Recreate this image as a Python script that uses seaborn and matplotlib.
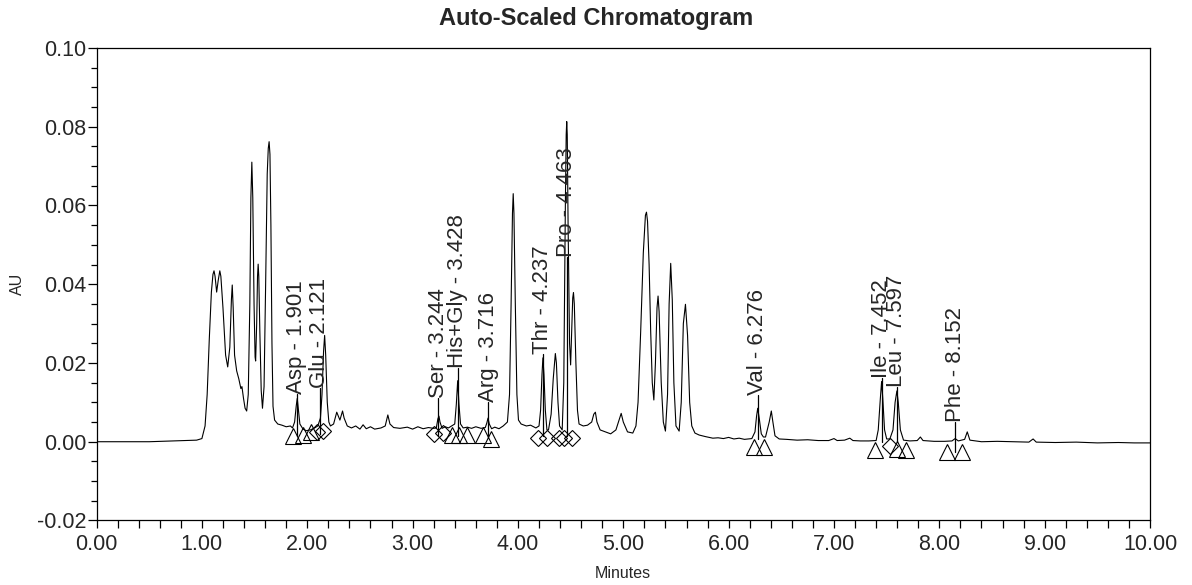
import numpy as np
import seaborn as sns
import matplotlib.pyplot as plt
from matplotlib.ticker import MultipleLocator, FormatStrFormatter

# chromatogram trace (minutes, AU)
time_min = [0.00, 0.50, 0.95, 1.00, 1.03, 1.05, 1.07, 1.09, 1.105, 1.115, 1.125, 1.14, 1.155, 1.17, 1.18,
            1.20, 1.225, 1.245, 1.265, 1.28, 1.288, 1.297, 1.31, 1.33, 1.35, 1.37, 1.38, 1.395, 1.41, 1.425,
            1.44, 1.455, 1.465, 1.474, 1.483, 1.495, 1.505, 1.51, 1.52, 1.528, 1.534, 1.54, 1.55, 1.563, 1.575,
            1.59, 1.605, 1.62, 1.63, 1.638, 1.646, 1.655, 1.665, 1.675, 1.69, 1.72, 1.76, 1.80, 1.84,
            1.86, 1.88, 1.895, 1.905, 1.915, 1.93, 1.96, 1.99, 2.03, 2.07,
            2.10, 2.125, 2.14, 2.155, 2.165, 2.175, 2.19, 2.205, 2.22,
            2.25, 2.28, 2.295, 2.31, 2.335, 2.35, 2.38, 2.42, 2.46, 2.50, 2.53, 2.56, 2.60, 2.64, 2.70, 2.74,
            2.765, 2.785, 2.82, 2.88, 2.95, 3.00, 3.05, 3.10, 3.15, 3.20,
            3.225, 3.24, 3.25, 3.26, 3.28, 3.31, 3.34, 3.37,
            3.40, 3.415, 3.428, 3.44, 3.455, 3.48, 3.52, 3.56, 3.60, 3.65, 3.69,
            3.705, 3.716, 3.728, 3.75, 3.78, 3.82, 3.86, 3.90,
            3.92, 3.935, 3.948, 3.955, 3.962, 3.975, 3.99, 4.005, 4.03, 4.08, 4.12, 4.17, 4.20,
            4.215, 4.228, 4.237, 4.247, 4.26, 4.275, 4.29,
            4.315, 4.335, 4.355, 4.365, 4.38, 4.395, 4.42,
            4.435, 4.45, 4.458, 4.463, 4.468, 4.476, 4.49, 4.50,
            4.51, 4.52, 4.527, 4.535, 4.55, 4.565, 4.58, 4.62, 4.66, 4.70, 4.72, 4.735, 4.75, 4.78, 4.83,
            4.88, 4.93, 4.96, 4.98, 5.00, 5.04, 5.09, 5.12,
            5.14, 5.165, 5.19, 5.21, 5.22, 5.23, 5.245, 5.26, 5.275, 5.29,
            5.305, 5.32, 5.33, 5.34, 5.36, 5.38, 5.40,
            5.42, 5.435, 5.45, 5.465, 5.48, 5.50, 5.53,
            5.55, 5.57, 5.59, 5.61, 5.63, 5.65, 5.68, 5.72, 5.78, 5.85, 5.90, 5.95, 6.00, 6.05, 6.10, 6.15, 6.22,
            6.25, 6.265, 6.276, 6.29, 6.31, 6.33, 6.35, 6.385, 6.405, 6.42, 6.44, 6.48, 6.55, 6.65, 6.75,
            6.85, 6.95, 7.00, 7.03, 7.10, 7.15, 7.18, 7.25, 7.33, 7.40,
            7.42, 7.44, 7.452, 7.463, 7.48, 7.50, 7.53,
            7.56, 7.58, 7.597, 7.61, 7.63, 7.66, 7.72, 7.79, 7.82, 7.845, 7.95, 8.05, 8.12, 8.15, 8.18,
            8.24, 8.265, 8.29, 8.40, 8.55, 8.70, 8.85, 8.89, 8.92, 9.10, 9.30, 9.50, 9.70, 9.85, 10.00]
au = [0.0, 0.0, 0.0004, 0.0008, 0.004, 0.012, 0.026, 0.038, 0.0425, 0.0434, 0.042, 0.038, 0.041, 0.0434, 0.042,
      0.034, 0.022, 0.019, 0.024, 0.036, 0.0398, 0.034, 0.022, 0.018, 0.016, 0.0135, 0.014, 0.011, 0.0085, 0.0078,
      0.012, 0.035, 0.062, 0.0710, 0.062, 0.035, 0.0215, 0.0205, 0.030, 0.042, 0.0451, 0.042, 0.028, 0.013, 0.0085,
      0.014, 0.040, 0.068, 0.0745, 0.0762, 0.073, 0.055, 0.025, 0.009, 0.0055, 0.0045, 0.0042, 0.0038, 0.0040,
      0.0035, 0.005, 0.009, 0.011, 0.0085, 0.0045, 0.0032, 0.0028, 0.0030, 0.0035,
      0.004, 0.006, 0.012, 0.023, 0.027, 0.022, 0.010, 0.005, 0.004,
      0.0045, 0.0075, 0.0065, 0.0055, 0.0078, 0.006, 0.004, 0.0035, 0.004, 0.0032, 0.0043, 0.0033, 0.0038, 0.0032, 0.0035, 0.004,
      0.0068, 0.0045, 0.0036, 0.0034, 0.0037, 0.0032, 0.0038, 0.0033, 0.0036, 0.0034,
      0.0035, 0.0058, 0.0065, 0.005, 0.0034, 0.0038, 0.0035, 0.004,
      0.0045, 0.0095, 0.0155, 0.0095, 0.0045, 0.0035, 0.0037, 0.0034, 0.0038, 0.0034, 0.0036,
      0.0048, 0.006, 0.0045, 0.0033, 0.0037, 0.0033, 0.004, 0.005,
      0.012, 0.035, 0.058, 0.063, 0.058, 0.035, 0.012, 0.0055, 0.0045, 0.004, 0.0042, 0.0035, 0.004,
      0.008, 0.017, 0.0213, 0.017, 0.008, 0.003, 0.003,
      0.007, 0.016, 0.0224, 0.020, 0.010, 0.004, 0.003,
      0.015, 0.060, 0.078, 0.0813, 0.078, 0.055, 0.025, 0.0195,
      0.028, 0.0365, 0.0379, 0.035, 0.020, 0.008, 0.0045, 0.004, 0.0042, 0.005, 0.007, 0.0075, 0.005, 0.003, 0.0025,
      0.002, 0.003, 0.0055, 0.0072, 0.005, 0.0025, 0.0022, 0.004,
      0.010, 0.028, 0.048, 0.0575, 0.0583, 0.056, 0.045, 0.028, 0.015, 0.0106,
      0.020, 0.034, 0.037, 0.033, 0.015, 0.005, 0.0027,
      0.012, 0.035, 0.0453, 0.036, 0.015, 0.004, 0.0027,
      0.010, 0.030, 0.0349, 0.027, 0.010, 0.004, 0.0022, 0.0017, 0.0013, 0.0009, 0.001, 0.0008, 0.0011, 0.0007, 0.0009, 0.0006, 0.0008,
      0.0025, 0.0065, 0.0085, 0.006, 0.002, 0.0012, 0.0012, 0.005, 0.0078, 0.005, 0.0015, 0.0007, 0.0006, 0.0004, 0.0005,
      0.0003, 0.0003, 0.0008, 0.0003, 0.0004, 0.0009, 0.0003, 0.0002, 0.0002, 0.0003,
      0.003, 0.011, 0.0153, 0.011, 0.003, 0.0007, 0.0007,
      0.003, 0.010, 0.0129, 0.010, 0.003, 0.0004, 0.0002, 0.0003, 0.0012, 0.0003, 0.0001, 0.0001, 0.0002, 0.0008, 0.0002,
      0.0006, 0.0025, 0.0004, 0.0, 0.0001, 0.0, -0.0001, 0.0007, -0.0001, -0.0002, -0.0001, -0.0003, -0.0002, -0.0003, -0.0003]

# integrated peaks
peak_names = ["Asp", "Glu", "Ser", "His+Gly", "Arg", "Thr", "Pro", "Val", "Ile", "Leu", "Phe"]
peak_rt = [1.901, 2.121, 3.244, 3.428, 3.716, 4.237, 4.463, 6.276, 7.452, 7.597, 8.152]
label_au = [0.0120, 0.0136, 0.0110, 0.0187, 0.0102, 0.0222, 0.0468, 0.0119, 0.0162, 0.0140, 0.0051]
base_au = [0.0015, 0.0020, 0.0015, 0.0015, 0.0010, 0.0015, 0.0015, 0.0008, 0.0, 0.0, -0.0025]

# peak start/stop marks
tri_t = [1.862, 1.960, 2.035, 3.370, 3.445, 3.520, 3.665, 3.744, 6.240, 6.335, 7.385, 7.595, 7.685, 8.070, 8.215]
tri_au = [0.0015, 0.0018, 0.0025, 0.0018, 0.0018, 0.0018, 0.0018, 0.0008, -0.0013, -0.0013, -0.0020, -0.0018, -0.0020, -0.0025, -0.0025]
dia_t = [2.090, 2.145, 3.200, 3.290, 4.190, 4.280, 4.390, 4.440, 4.510, 7.535]
dia_au = [0.0025, 0.0028, 0.0020, 0.0022, 0.0010, 0.0010, 0.0010, 0.0010, 0.0010, -0.0010]

sns.set_style("ticks")
plt.rcParams['font.family'] = ['Liberation Sans', 'DejaVu Sans']
plt.rcParams['axes.unicode_minus'] = False

fig = plt.figure(figsize=(11.92, 5.85), dpi=100)
ax = fig.add_axes([0.081, 0.1103, 0.8838, 0.8077])

sns.lineplot(x=time_min, y=au, ax=ax, color="black", linewidth=0.8, estimator=None, sort=False)

ax.plot(tri_t, tri_au, linestyle="none", marker="^", markersize=12, markerfacecolor="none",
        markeredgecolor="black", markeredgewidth=0.8)
ax.plot(dia_t, dia_au, linestyle="none", marker="D", markersize=8, markerfacecolor="none",
        markeredgecolor="black", markeredgewidth=0.8)

for name, rt, ly, by in zip(peak_names, peak_rt, label_au, base_au):
    ax.plot([rt, rt], [by, ly], color="black", linewidth=0.9)
    ax.text(rt, ly, f"{name} - {rt:.3f}", rotation=90, ha="center", va="bottom", fontsize=16)

ax.set_xlim(0, 10)
ax.set_ylim(-0.02, 0.10)
ax.xaxis.set_major_locator(MultipleLocator(1))
ax.xaxis.set_minor_locator(MultipleLocator(0.2))
ax.yaxis.set_major_locator(MultipleLocator(0.02))
ax.yaxis.set_minor_locator(MultipleLocator(0.005))
ax.xaxis.set_major_formatter(FormatStrFormatter("%.2f"))
ax.yaxis.set_major_formatter(FormatStrFormatter("%.2f"))
ax.tick_params(which="both", direction="out", width=0.9, color="black", labelsize=15.5)
ax.tick_params(axis="x", which="both", length=5.5, pad=4.5)
ax.tick_params(axis="y", which="major", length=6.7, pad=0.5)
ax.tick_params(axis="y", which="minor", length=4.3)
for s in ax.spines.values():
    s.set_visible(True)
    s.set_color("black")
    s.set_linewidth(0.9)

ax.set_xlabel("Minutes", fontsize=11.5)
ax.set_ylabel("AU", fontsize=11.5)
ax.xaxis.set_label_coords(0.5, -0.096)
ax.yaxis.set_label_coords(-0.068, 0.5)
fig.text(0.5, 1 - 18 / 585, "Auto-Scaled Chromatogram", ha="center", va="center",
         fontsize=17, fontweight="bold")

fig.savefig("out.png", dpi=100)
